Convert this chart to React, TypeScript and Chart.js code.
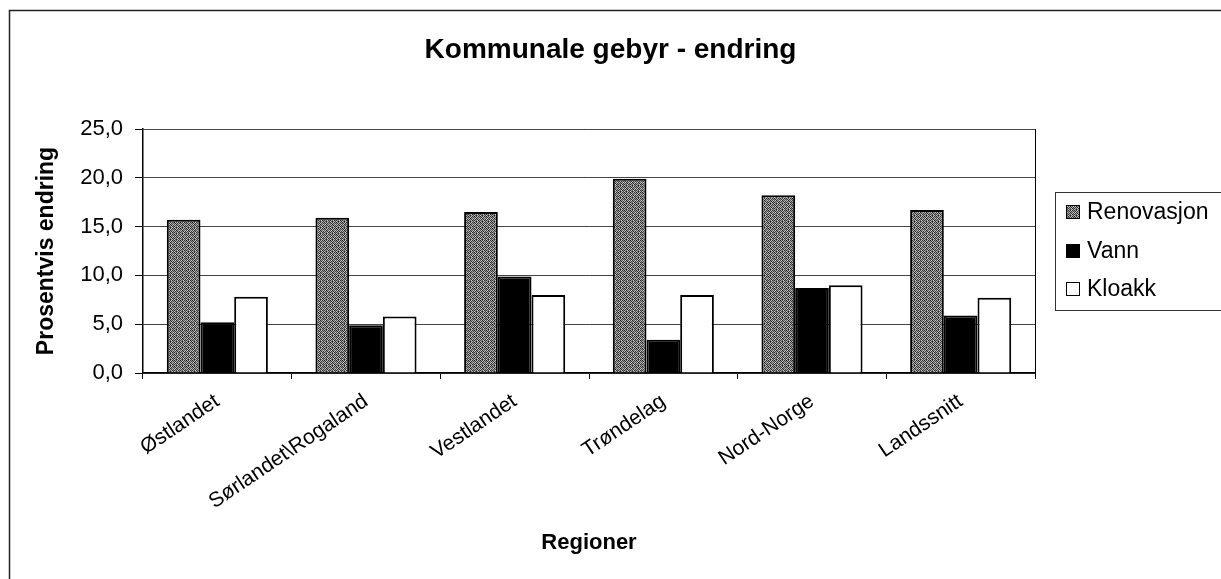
import React, { useEffect, useRef } from 'react';
import { Chart, registerables } from 'chart.js';

Chart.register(...registerables);

const categories = ['Østlandet', 'Sørlandet\\Rogaland', 'Vestlandet', 'Trøndelag', 'Nord-Norge', 'Landssnitt'];
const seriesNames = ['Renovasjon', 'Vann', 'Kloakk'];
const renovasjon = [15.7, 15.9, 16.5, 19.9, 18.2, 16.7];
const vann = [5.2, 4.9, 9.9, 3.4, 8.7, 5.9];
const kloakk = [7.8, 5.8, 8.0, 8.0, 9.0, 7.7];
const yMin = 0;
const yMax = 25;
const yStep = 5;

const chartTitle = 'Kommunale gebyr - endring';
const yTitle = 'Prosentvis endring';
const xTitle = 'Regioner';

const FONT = "'Liberation Sans', Arial, Helvetica, sans-serif";

const GRAYS = [
  [30, 170, 60, 200, 45, 150],
  [140, 50, 190, 60, 165, 70],
  [70, 205, 35, 145, 90, 200],
  [180, 60, 155, 40, 190, 55],
  [45, 160, 85, 210, 35, 130],
  [195, 95, 40, 120, 175, 65],
];

export default function App() {
  const ref = useRef<HTMLCanvasElement>(null);

  useEffect(() => {
    const canvas = ref.current!;
    const pc = document.createElement('canvas');
    pc.width = GRAYS[0].length;
    pc.height = GRAYS.length;
    const pctx = pc.getContext('2d')!;
    GRAYS.forEach((row, y) =>
      row.forEach((g, x) => {
        pctx.fillStyle = `rgb(${g},${g},${g})`;
        pctx.fillRect(x, y, 1, 1);
      })
    );
    const pattern = canvas.getContext('2d')!.createPattern(pc, 'repeat')!;

    const fills: any[] = [pattern, '#000000', '#ffffff'];
    const values = [renovasjon, vann, kloakk];

    const framePlugin = {
      id: 'framePlugin',
      beforeDraw(chart: any) {
        const { ctx } = chart;
        ctx.save();
        ctx.fillStyle = '#ffffff';
        ctx.fillRect(0, 0, chart.width, chart.height);
        ctx.restore();
      },
      afterDraw(chart: any) {
        const { ctx } = chart;
        ctx.save();
        // outer frame (top and left visible)
        ctx.strokeStyle = '#222';
        ctx.lineWidth = 1.5;
        ctx.beginPath();
        ctx.moveTo(9.5, chart.height + 5);
        ctx.lineTo(9.5, 10.5);
        ctx.lineTo(chart.width + 5, 10.5);
        ctx.stroke();
        // legend
        ctx.strokeStyle = '#333';
        ctx.lineWidth = 1;
        ctx.strokeRect(1055.5, 192.5, 200, 118);
        const ys = [212, 251, 289];
        chart.data.datasets.forEach((ds: any, i: number) => {
          const y = ys[i];
          ctx.fillStyle = ds.backgroundColor;
          ctx.fillRect(1066, y - 7, 14, 14);
          ctx.strokeStyle = '#000';
          ctx.lineWidth = 1;
          ctx.strokeRect(1066.5, y - 6.5, 13, 13);
          ctx.fillStyle = '#000';
          ctx.font = `23px ${FONT}`;
          ctx.textBaseline = 'middle';
          ctx.textAlign = 'left';
          ctx.fillText(ds.label, 1087, y + 1);
        });
        ctx.restore();
      },
    };

    const chart = new Chart(canvas, {
      type: 'bar',
      data: {
        labels: categories,
        datasets: seriesNames.map((name, i) => ({
          label: name,
          data: values[i],
          backgroundColor: fills[i],
          borderColor: '#000000',
          borderWidth: 2,
          borderSkipped: 'bottom',
          barPercentage: 1.0,
          categoryPercentage: 0.68,
          yAxisID: 'y',
        })),
      },
      options: {
        animation: false,
        responsive: true,
        maintainAspectRatio: false,
        devicePixelRatio: 1,
        layout: { padding: { left: 0, right: 0, top: 0, bottom: 0 } },
        plugins: {
          legend: { display: false },
          tooltip: { enabled: false },
          title: {
            display: true,
            text: chartTitle,
            color: '#000',
            font: { family: FONT, size: 28, weight: 'bold', lineHeight: 1.2 },
            padding: { top: 33, bottom: 62.4 },
          },
        },
        scales: {
          x: {
            offset: true,
            grid: {
              display: true,
              offset: true,
              drawOnChartArea: false,
              drawTicks: true,
              tickLength: 6,
              tickColor: '#000',
            },
            border: { display: true, color: '#000', width: 1.5 },
            ticks: {
              autoSkip: false,
              minRotation: 34,
              maxRotation: 34,
              color: '#000',
              padding: 10,
              font: { family: FONT, size: 21 },
            },
            title: {
              display: true,
              text: xTitle,
              color: '#000',
              font: { family: FONT, size: 22, weight: 'bold', lineHeight: 1.2 },
              padding: { top: 0, bottom: 23 },
            },
            afterFit(scale: any) {
              scale.height = 206;
            },
          },
          y: {
            position: 'left',
            min: yMin,
            max: yMax,
            ticks: {
              stepSize: yStep,
              color: '#000',
              padding: 12,
              font: { family: FONT, size: 22 },
              callback: (v: any) => Number(v).toFixed(1).replace('.', ','),
            },
            grid: {
              color: '#444',
              lineWidth: 1,
              drawTicks: true,
              tickLength: 8,
              tickColor: '#000',
            },
            border: { display: true, color: '#000', width: 1.5 },
            title: {
              display: true,
              text: yTitle,
              color: '#000',
              font: { family: FONT, size: 23, weight: 'bold', lineHeight: 1.2 },
              padding: { top: 33, bottom: 0 },
            },
            afterFit(scale: any) {
              scale.width = 143;
            },
          },
          yRight: {
            position: 'right',
            min: yMin,
            max: yMax,
            display: true,
            ticks: { display: false },
            grid: { display: false, drawTicks: false, drawOnChartArea: false },
            border: { display: true, color: '#000', width: 1 },
            afterFit(scale: any) {
              scale.width = 186;
            },
          },
        },
      },
      plugins: [framePlugin],
    });

    return () => chart.destroy();
  }, []);

  return (
    <div style={{ position: 'fixed', left: 0, top: 0, width: 1221, height: 579, background: '#fff' }}>
      <canvas ref={ref} />
    </div>
  );
}
